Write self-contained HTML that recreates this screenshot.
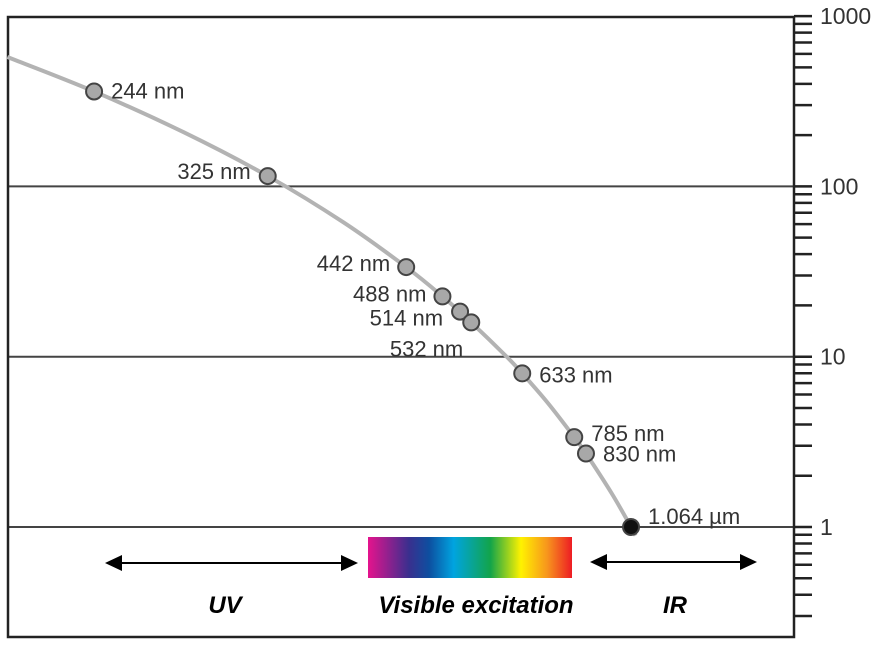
<!DOCTYPE html>
<html><head><meta charset="utf-8">
<style>
html,body{margin:0;padding:0;background:#fff;}
svg{display:block;font-family:"Liberation Sans",sans-serif;}
</style></head>
<body>
<svg id="chart" width="886" height="648" viewBox="0 0 886 648">
<defs>
<linearGradient id="spec" x1="0" x2="1" y1="0" y2="0">
<stop offset="0" stop-color="#e5138d"/>
<stop offset="0.2" stop-color="#3a2f8e"/>
<stop offset="0.3" stop-color="#0d4fa0"/>
<stop offset="0.42" stop-color="#00a4e0"/>
<stop offset="0.6" stop-color="#12a44a"/>
<stop offset="0.75" stop-color="#fff200"/>
<stop offset="0.88" stop-color="#f7941d"/>
<stop offset="1" stop-color="#ed1c24"/>
</linearGradient>
</defs>
<g id="grid"></g>
<rect x="8" y="17" width="786" height="620" fill="none" stroke="#222" stroke-width="2.5"/>
<g id="yaxis"></g>
<path id="curve" fill="none" stroke="#b3b3b3" stroke-width="4"/>
<g id="points"></g>
<g>
<line x1="115" y1="563" x2="348" y2="563" stroke="#000" stroke-width="2"/>
<polygon points="105,563 122,555 122,571" fill="#000"/>
<polygon points="358,563 341,555 341,571" fill="#000"/>
<rect x="368" y="537" width="204" height="41" fill="url(#spec)"/>
<line x1="600" y1="562" x2="747" y2="562" stroke="#000" stroke-width="2"/>
<polygon points="590,562 607,554 607,570" fill="#000"/>
<polygon points="757,562 740,554 740,570" fill="#000"/>
<text x="225" y="613" font-size="24" font-weight="bold" font-style="italic" text-anchor="middle">UV</text>
<text x="476" y="613" font-size="24" font-weight="bold" font-style="italic" text-anchor="middle">Visible excitation</text>
<text x="675" y="613" font-size="24" font-weight="bold" font-style="italic" text-anchor="middle">IR</text>
</g>
</svg>
<script>
const wavelengths = [244, 325, 442, 488, 514, 532, 633, 785, 830, 1064];
const intensities = [361, 115, 33.6, 22.6, 18.4, 15.9, 7.98, 3.37, 2.7, 1];
const pointLabels = ["244 nm","325 nm","442 nm","488 nm","514 nm","532 nm","633 nm","785 nm","830 nm","1.064 µm"];
const curveWavelengths = [217, 244, 280, 325, 380, 442, 488, 532, 600, 633, 700, 785, 830, 950, 1064, 1095];
const curveValues = [575, 361, 208, 115, 61.5, 33.6, 22.6, 15.9, 9.89, 7.98, 5.34, 3.37, 2.7, 1.57, 1, 0.89];
const yTickLabels = ["1000", "100", "10", "1"];
const yTickValues = [1000, 100, 10, 1];

const NS = "http://www.w3.org/2000/svg";
function y(v){ return 527 - 170.3 * Math.log10(v); }
function x(lambda){ return 790.8 - 0.017 * (1e7 / lambda); }
function mk(tag, attrs, parent){ const e=document.createElementNS(NS,tag); for(const k in attrs) e.setAttribute(k,attrs[k]); parent.appendChild(e); return e; }

const grid = document.getElementById('grid');
const yaxis = document.getElementById('yaxis');
// gridlines at 100, 10, 1
[100,10,1].forEach(v=>{
  const l = mk('line',{x1:8,x2:794,y1:y(v),y2:y(v),stroke:'#444','stroke-width':2},grid);
  
  
});
// ticks
const tickVals=[];
[100,10,1].forEach(d=>{ for(let m=1;m<=9;m++) tickVals.push(d*m); });
tickVals.push(1000);
for(let m=3;m<=9;m++) tickVals.push(m/10);
tickVals.forEach(v=>{
  const l = mk('line',{x1:794,x2:812,y1:y(v),y2:y(v),stroke:'#222','stroke-width':2.5},yaxis);
  
  
});
yTickLabels.forEach((t,i)=>{
  const e = mk('text',{x:820,y:y(yTickValues[i])+8,'font-size':23,fill:'#333'},yaxis);
  e.textContent=t;
  
  
});
// curve (Catmull-Rom)
const pts = curveWavelengths.map((w,i)=>[x(w), y(curveValues[i])]);
let d = 'M'+pts[0][0]+','+pts[0][1];
for(let i=0;i<pts.length-1;i++){
  const p0=pts[Math.max(0,i-1)], p1=pts[i], p2=pts[i+1], p3=pts[Math.min(pts.length-1,i+2)];
  const c1=[p1[0]+(p2[0]-p0[0])/6, p1[1]+(p2[1]-p0[1])/6];
  const c2=[p2[0]-(p3[0]-p1[0])/6, p2[1]-(p3[1]-p1[1])/6];
  d+=' C'+c1[0]+','+c1[1]+' '+c2[0]+','+c2[1]+' '+p2[0]+','+p2[1];
}
document.getElementById('curve').setAttribute('d',d);
// points + labels
const pg = document.getElementById('points');
const labelPos = [
  ['start',17,7],['end',-17,3],['end',-16,4],['end',-16,5],['end',-17,14],['end',-8,34],
  ['start',17,9],['start',17,4],['start',17,8],['start',17,-3]
];
wavelengths.forEach((w,i)=>{
  const cx=x(w), cy=y(intensities[i]);
  const c = mk('circle',{cx:cx,cy:cy,r:8,fill: i===wavelengths.length-1?'#111':'#a8a8a8',stroke:'#444','stroke-width':2},pg);
  
  
  const lp=labelPos[i];
  const t = mk('text',{x:cx+lp[1],y:cy+lp[2],'font-size':22,fill:'#333','text-anchor':lp[0]},pg);
  t.textContent=pointLabels[i];
  
  
});
</script>
</body></html>
